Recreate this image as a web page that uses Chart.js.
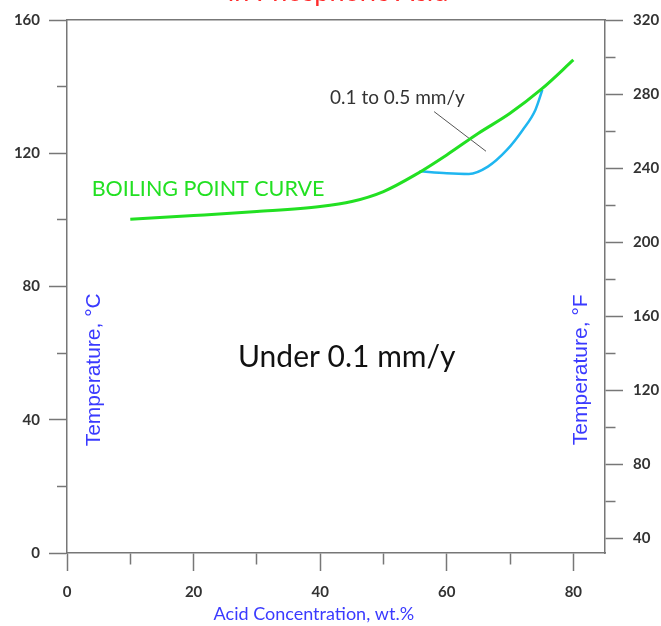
<!DOCTYPE html>
<html lang="en">
<head>
<meta charset="UTF-8" />
<title>Iso-corrosion chart</title>
<script src="https://cdn.jsdelivr.net/npm/chart.js@4.4.1/dist/chart.umd.min.js"></script>
<style>
  html, body { margin: 0; padding: 0; background: #fff; }
  #wrap { width: 661px; height: 626px; }
</style>
</head>
<body>
<div id="wrap"><canvas id="myChart"></canvas></div>
<script>
// boiling point curve (acid wt.% -> deg C)
const boilX = [10, 20, 30, 40, 45, 50, 55, 60, 65, 70, 75, 80];
const boilY = [100.2, 101.3, 102.5, 104, 105.5, 108.5, 113.5, 119.5, 126, 132, 139.3, 148];
// 0.1 mm/y iso-corrosion line
const rateX = [55.7, 60, 63.5, 66.5, 69.5, 72, 74, 75.1];
const rateY = [114.6, 114, 113.8, 116, 121, 127, 133, 139];
// pointer from the "0.1 to 0.5 mm/y" label
const leaderX = [58, 66.2];
const leaderY = [132.5, 120.6];

const xTicks = [0, 10, 20, 30, 40, 50, 60, 70, 80];
const cTicks = [0, 20, 40, 60, 80, 100, 120, 140, 160];
const fTicks = [40, 60, 80, 100, 120, 140, 160, 180, 200, 220, 240, 260, 280, 300, 320];

const titleText = "in Phosphoric Acid";
const xTitle = "Acid Concentration, wt.%";
const cTitle = "Temperature, °C";
const fTitle = "Temperature, °F";
const curveText = "BOILING POINT CURVE";
const zoneLow = "Under 0.1 mm/y";
const zoneMid = "0.1 to 0.5 mm/y";

const axisGray = "#777";
const tickFont = { family: "Lato", size: 15, weight: "bold" };

function pts(xs, ys) {
  return xs.map((x, i) => ({ x: x, y: ys[i] }));
}
function setTicks(values) {
  return (scale) => { scale.ticks = values.map((v) => ({ value: v })); };
}
function every(n) {
  return (v) => (v % n === 0 ? v : "");
}

// text drawn on the chart, placed with the chart's own scales
const labels = {
  id: "labels",
  afterDatasetsDraw(chart) {
    const { ctx, chartArea } = chart;
    const x = chart.scales.x;
    const y = chart.scales.y;
    ctx.save();

    ctx.fillStyle = "#ff2a2a";
    ctx.font = "27px Lato";
    ctx.textAlign = "center";
    ctx.textBaseline = "alphabetic";
    ctx.fillText(titleText, (chartArea.left + chartArea.right) / 2 + 2, 1);

    ctx.textBaseline = "middle";
    ctx.fillStyle = "#3a3aff";
    ctx.font = "18px Lato";
    ctx.fillText(xTitle, x.getPixelForValue(39), 614);

    ctx.fillStyle = "#22e022";
    ctx.font = "21.5px Lato";
    ctx.textAlign = "left";
    ctx.fillText(curveText, x.getPixelForValue(3.9), y.getPixelForValue(109.3));

    ctx.fillStyle = "#111";
    ctx.font = "30px Lato";
    ctx.textAlign = "center";
    ctx.fillText(zoneLow, x.getPixelForValue(44.2), y.getPixelForValue(58.8));

    ctx.fillStyle = "#333";
    ctx.font = "19px Lato";
    ctx.fillText(zoneMid, x.getPixelForValue(52.2), y.getPixelForValue(136.6));

    ctx.fillStyle = "#3a3aff";
    ctx.font = "21px 'Liberation Sans'";
    [[4.3, cTitle], [81.3, fTitle]].forEach(([xv, txt]) => {
      ctx.save();
      ctx.translate(x.getPixelForValue(xv), y.getPixelForValue(55));
      ctx.rotate(-Math.PI / 2);
      ctx.fillText(txt, 0, 0);
      ctx.restore();
    });
    ctx.restore();
  },
};

const ctx = document.getElementById("myChart").getContext("2d");
const myChart = new Chart(ctx, {
  type: "line",
  data: {
    datasets: [
      {
        label: "boiling point",
        data: pts(boilX, boilY),
        borderColor: "#22e022",
        borderWidth: 3,
        cubicInterpolationMode: "monotone",
        pointRadius: 0,
      },
      {
        label: "0.1 mm/y",
        data: pts(rateX, rateY),
        borderColor: "#1fb6f0",
        borderWidth: 2.5,
        cubicInterpolationMode: "monotone",
        pointRadius: 0,
      },
      {
        label: "pointer",
        data: pts(leaderX, leaderY),
        borderColor: "#555",
        borderWidth: 1,
        pointRadius: 0,
      },
    ],
  },
  options: {
    responsive: true,
    maintainAspectRatio: false,
    animation: false,
    layout: { padding: 0 },
    plugins: { legend: { display: false }, tooltip: { enabled: false } },
    scales: {
      x: {
        type: "linear",
        position: "bottom",
        min: 0,
        max: 85,
        afterBuildTicks: setTicks(xTicks),
        afterFit: (s) => { s.height = 73; },
        ticks: { callback: every(20), font: tickFont, color: "#333", padding: 12, maxRotation: 0 },
        grid: {
          drawOnChartArea: false,
          tickLength: 18,
          tickColor: axisGray,
          tickWidth: 1.5,
          tickBorderDash: (c) => (c.tick && c.tick.value % 20 ? [11, 40] : []),
        },
        border: { color: axisGray, width: 1.5 },
      },
      x2: {
        type: "linear",
        position: "top",
        min: 0,
        max: 85,
        afterFit: (s) => { s.height = 20; },
        ticks: { display: false },
        grid: { drawOnChartArea: false, drawTicks: false },
        border: { color: axisGray, width: 1.5 },
      },
      y: {
        type: "linear",
        position: "left",
        min: 0,
        max: 160,
        afterBuildTicks: setTicks(cTicks),
        afterFit: (s) => { s.width = 67; },
        ticks: { callback: every(40), font: tickFont, color: "#333", padding: 9 },
        grid: {
          drawOnChartArea: false,
          tickLength: 18,
          tickColor: axisGray,
          tickWidth: 1.5,
          tickBorderDash: (c) => (c.tick && c.tick.value % 40 ? [0, 8, 10, 0] : []),
        },
        border: { color: axisGray, width: 1.5 },
      },
      y2: {
        type: "linear",
        position: "right",
        min: 32,
        max: 320,
        afterBuildTicks: setTicks(fTicks),
        afterFit: (s) => { s.width = 56; },
        ticks: { callback: every(40), font: tickFont, color: "#333", padding: 10 },
        grid: {
          drawOnChartArea: false,
          tickLength: 18,
          tickColor: axisGray,
          tickWidth: 1.5,
          tickBorderDash: (c) => (c.tick && c.tick.value % 40 ? [10, 40] : []),
        },
        border: { color: axisGray, width: 1.5 },
      },
    },
  },
  plugins: [labels],
});
</script>
</body>
</html>
